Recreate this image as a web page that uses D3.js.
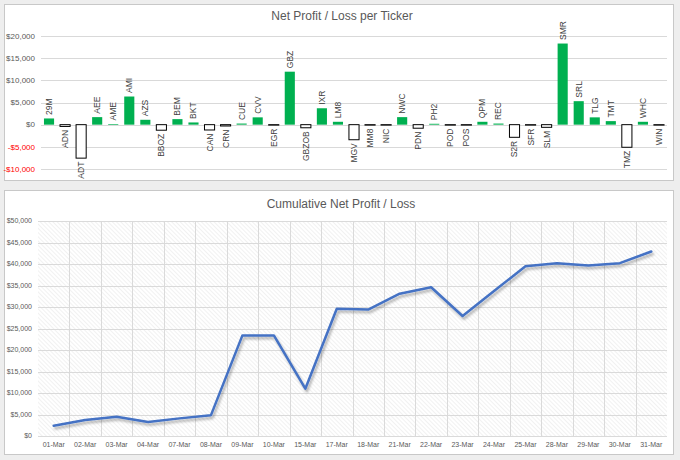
<!DOCTYPE html>
<html>
<head>
<meta charset="utf-8">
<style>
body { margin: 0; background: #eeeeee; }
svg { display: block; font-family: "Liberation Sans", Arial, sans-serif; }
</style>
</head>
<body>
<svg id="chart" width="680" height="460"></svg>
<script src="https://cdnjs.cloudflare.com/ajax/libs/d3/7.8.5/d3.min.js"></script>
<script>
// net profit / loss per ticker
var tickers = ['29M', 'ADN', 'ADT', 'AEE', 'AME', 'AMI', 'AZS', 'BBOZ', 'BEM', 'BKT',
    'CAN', 'CRN', 'CUE', 'CVV', 'EGR', 'GBZ', 'GBZOB', 'IXR', 'LM8', 'MGV',
    'MM8', 'NIC', 'NWC', 'PDN', 'PH2', 'POD', 'POS', 'QPM', 'REC', 'S2R',
    'SFR', 'SLM', 'SMR', 'SRL', 'TLG', 'TMT', 'TMZ', 'WHC', 'WIN'];
var profit = [1400, -400, -7550, 1700, 150, 6350, 1100, -1250, 1250, 500,
    -1200, -300, 250, 1650, -100, 11950, -700, 3700, 650, -3400,
    -100, -100, 1700, -800, 200, -100, -100, 650, 250, -2850,
    -100, -600, 18300, 5300, 1650, 800, -5100, 650, -100];
var profitTicks = [-10000, -5000, 0, 5000, 10000, 15000, 20000];

// cumulative net profit / loss per trading day
var dates = ['01-Mar', '02-Mar', '03-Mar', '04-Mar', '07-Mar', '08-Mar', '09-Mar', '10-Mar',
    '15-Mar', '17-Mar', '18-Mar', '21-Mar', '22-Mar', '23-Mar', '24-Mar', '25-Mar',
    '28-Mar', '29-Mar', '30-Mar', '31-Mar'];
var cumulative = [2400, 3700, 4500, 3250, 4100, 4850, 23400, 23400,
    11000, 29600, 29400, 33100, 34600, 27900, 33700, 39500,
    40200, 39650, 40200, 42900];
var cumulativeTicks = [0, 5000, 10000, 15000, 20000, 25000, 30000, 35000, 40000, 45000, 50000];

var money = function (d) { return (d < 0 ? '-' : '') + '$' + d3.format(',')(Math.abs(d)); };
var svg = d3.select('#chart');

var defs = svg.append('defs');
defs.append('pattern')
    .attr('id', 'hatch').attr('patternUnits', 'userSpaceOnUse')
    .attr('width', 3).attr('height', 3)
    .attr('patternTransform', 'rotate(-45)')
  .append('line')
    .attr('x1', 0).attr('y1', 0).attr('x2', 0).attr('y2', 3)
    .attr('stroke', '#e3e3e3').attr('stroke-width', 1);
defs.append('filter').attr('id', 'shadow')
    .attr('x', '-5%').attr('y', '-5%').attr('width', '110%').attr('height', '115%')
  .append('feDropShadow')
    .attr('dx', 1.5).attr('dy', 2.5).attr('stdDeviation', 1.2)
    .attr('flood-color', '#000').attr('flood-opacity', 0.3);

// panels
svg.append('rect').attr('x', 4.5).attr('y', 4.5).attr('width', 669).attr('height', 176)
    .attr('fill', '#fff').attr('stroke', '#c8c8c8');
svg.append('rect').attr('x', 4.5).attr('y', 190.5).attr('width', 669).attr('height', 264)
    .attr('fill', '#fff').attr('stroke', '#c8c8c8');

// ---------- top chart: bars ----------
var x1 = d3.scaleBand().domain(tickers).range([41, 667]).paddingInner(0.37).paddingOuter(0.185);
var y1 = d3.scaleLinear().domain([-10000, 20000]).range([169, 36]);

svg.append('text').attr('x', 342).attr('y', 20).attr('text-anchor', 'middle')
    .attr('font-size', 12).attr('fill', '#595959').text('Net Profit / Loss per Ticker');

svg.append('g').selectAll('line').data(profitTicks).enter().append('line')
    .attr('x1', 41).attr('x2', 667)
    .attr('y1', function (d) { return Math.round(y1(d)) + 0.5; })
    .attr('y2', function (d) { return Math.round(y1(d)) + 0.5; })
    .attr('stroke', '#d9d9d9');

svg.append('g').selectAll('text').data(profitTicks).enter().append('text')
    .attr('x', 35).attr('y', function (d) { return y1(d); }).attr('dy', '0.35em')
    .attr('text-anchor', 'end').attr('font-size', 8)
    .attr('fill', function (d) { return d < 0 ? '#ff0000' : '#595959'; })
    .text(money);

var bars = tickers.map(function (t, i) { return { ticker: t, value: profit[i] }; });

svg.append('g').selectAll('rect').data(bars).enter().append('rect')
    .attr('x', function (d) { return x1(d.ticker); })
    .attr('width', x1.bandwidth())
    .attr('y', function (d) { return y1(Math.max(0, d.value)); })
    .attr('height', function (d) { return Math.abs(y1(d.value) - y1(0)); })
    .attr('fill', function (d) { return d.value < 0 ? '#fff' : '#00b050'; })
    .attr('stroke', function (d) { return d.value < 0 ? '#000' : 'none'; })
    .attr('stroke-width', 1);

svg.append('g').selectAll('text').data(bars).enter().append('text')
    .attr('transform', function (d) {
        var cx = x1(d.ticker) + x1.bandwidth() / 2;
        var cy = d.value < 0 ? y1(d.value) + 3.5 : y1(d.value) - 3.5;
        return 'translate(' + cx + ',' + cy + ') rotate(-90)';
    })
    .attr('dy', '0.35em')
    .attr('text-anchor', function (d) { return d.value < 0 ? 'end' : 'start'; })
    .attr('font-size', 8.5).attr('fill', '#404040')
    .text(function (d) { return d.ticker; });

// ---------- bottom chart: cumulative line ----------
var x2 = d3.scaleBand().domain(dates).range([38, 667]);
var y2 = d3.scaleLinear().domain([0, 50000]).range([436, 221]);

svg.append('text').attr('x', 341).attr('y', 208).attr('text-anchor', 'middle')
    .attr('font-size', 12).attr('fill', '#595959').text('Cumulative Net Profit / Loss');

svg.append('rect').attr('x', 38).attr('y', 221).attr('width', 629).attr('height', 215)
    .attr('fill', 'url(#hatch)');

svg.append('g').selectAll('line').data(cumulativeTicks).enter().append('line')
    .attr('x1', 38).attr('x2', 667)
    .attr('y1', function (d) { return Math.round(y2(d)) + 0.5; })
    .attr('y2', function (d) { return Math.round(y2(d)) + 0.5; })
    .attr('stroke', '#dadada');

svg.append('g').selectAll('line').data(dates.slice(1)).enter().append('line')
    .attr('x1', function (d) { return Math.round(x2(d)) + 0.5; })
    .attr('x2', function (d) { return Math.round(x2(d)) + 0.5; })
    .attr('y1', 221).attr('y2', 436)
    .attr('stroke', '#dadada');

svg.append('g').selectAll('text').data(cumulativeTicks).enter().append('text')
    .attr('x', 32).attr('y', function (d) { return y2(d); }).attr('dy', '0.35em')
    .attr('text-anchor', 'end').attr('font-size', 7).attr('fill', '#595959')
    .text(money);

svg.append('g').selectAll('text').data(dates).enter().append('text')
    .attr('x', function (d) { return x2(d) + x2.bandwidth() / 2; }).attr('y', 447)
    .attr('text-anchor', 'middle').attr('font-size', 7).attr('fill', '#595959')
    .text(function (d) { return d; });

var line = d3.line()
    .x(function (d, i) { return x2(dates[i]) + x2.bandwidth() / 2; })
    .y(function (d) { return y2(d); });

svg.append('path').datum(cumulative)
    .attr('d', line).attr('fill', 'none')
    .attr('stroke', '#4472c4').attr('stroke-width', 2.5)
    .attr('stroke-linejoin', 'round').attr('stroke-linecap', 'round')
    .attr('filter', 'url(#shadow)');
</script>
</body>
</html>
